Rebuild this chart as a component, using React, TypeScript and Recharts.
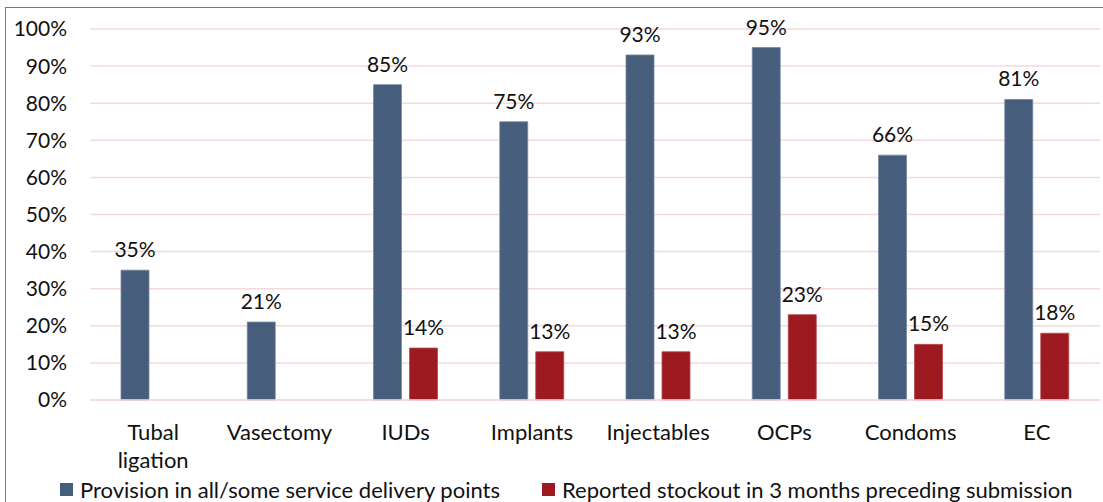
import React from 'react';
import { BarChart, Bar, XAxis, YAxis, CartesianGrid, LabelList } from 'recharts';

const categories = ['Tubal\nligation', 'Vasectomy', 'IUDs', 'Implants', 'Injectables', 'OCPs', 'Condoms', 'EC'];
const provision = [35, 21, 85, 75, 93, 95, 66, 81];
const stockout: (number | null)[] = [null, null, 14, 13, 13, 23, 15, 18];
const yTicks = [0, 10, 20, 30, 40, 50, 60, 70, 80, 90, 100];
const seriesNames = ['Provision in all/some service delivery points', 'Reported stockout in 3 months preceding submission'];

const data = categories.map((c, i) => ({ name: c, provision: provision[i], stockout: stockout[i] }));

const FONT = 'Lato, "Open Sans", sans-serif';
const BLUE = '#465d7b';
const RED = '#9c1a20';
const GRID = '#f6d9dc';

const XTick = (props: any) => {
  const { x, y, payload } = props;
  const lines = String(payload.value).split('\n');
  return (
    <g transform={`translate(${x},${y})`}>
      {lines.map((l: string, i: number) => (
        <text key={i} x={0} y={i * 28} dy={32} textAnchor="middle" fill="#111" fontSize={22} fontFamily={FONT}>
          {l}
        </text>
      ))}
    </g>
  );
};

export default function App() {
  return (
    <div style={{ position: 'absolute', left: 0, top: 0, width: 1103, height: 502, background: '#fff', overflow: 'hidden' }}>
      <div style={{ position: 'absolute', left: 5, top: 7, width: 1110, height: 510, border: '1px solid #e04a50' }} />
      <div style={{ position: 'absolute', left: 0, top: 0 }}>
        <BarChart
          width={1103}
          height={502}
          data={data}
          margin={{ top: 29, right: 3, bottom: 72, left: 0 }}
          barSize={28}
          barGap={8}
        >
          <CartesianGrid vertical={false} stroke={GRID} strokeWidth={1.5} />
          <XAxis
            dataKey="name"
            interval={0}
            height={30}
            tick={<XTick />}
            tickLine={false}
            axisLine={{ stroke: GRID, strokeWidth: 1.5 }}
          />
          <YAxis
            domain={[0, 100]}
            ticks={yTicks}
            width={90}
            tickLine={false}
            axisLine={false}
            tickSize={0}
            tickMargin={23}
            tickFormatter={(v: number) => `${v}%`}
            tick={{ fill: '#111', fontSize: 21, fontFamily: FONT }}
          />
          <Bar dataKey="provision" fill={BLUE} stroke="#7589a3" strokeWidth={0.8} isAnimationActive={false}>
            <LabelList dataKey="provision" position="top" offset={13} formatter={(v: any) => `${v}%`} fill="#111" fontSize={21} fontFamily={FONT} />
          </Bar>
          <Bar dataKey="stockout" fill={RED} stroke="#b54a4f" strokeWidth={0.8} isAnimationActive={false}>
            <LabelList dataKey="stockout" position="top" offset={13} formatter={(v: any) => (v == null ? '' : `${v}%`)} fill="#111" fontSize={21} fontFamily={FONT} />
          </Bar>
        </BarChart>
      </div>
      <div style={{ position: 'absolute', left: 60, top: 476, display: 'flex', alignItems: 'center', fontFamily: FONT, fontSize: 22, color: '#111', whiteSpace: 'nowrap' }}>
        {seriesNames.map((n, i) => (
          <div key={n} style={{ display: 'flex', alignItems: 'center', marginLeft: i === 0 ? 0 : 42 }}>
            <span style={{ width: 13, height: 13, background: i === 0 ? BLUE : RED, display: 'inline-block', marginRight: 7 }} />
            <span>{n}</span>
          </div>
        ))}
      </div>
    </div>
  );
}
